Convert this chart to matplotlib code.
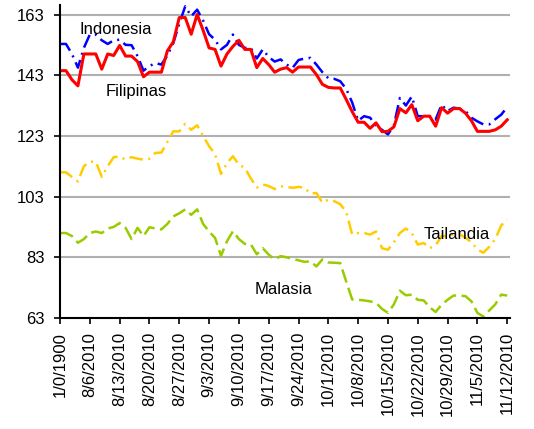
import numpy as np
from matplotlib import pyplot as plt

# weekly labels, one every 5 trading days
tick_labels = ["1/0/1900", "8/6/2010", "8/13/2010", "8/20/2010", "8/27/2010",
               "9/3/2010", "9/10/2010", "9/17/2010", "9/24/2010", "10/1/2010",
               "10/8/2010", "10/15/2010", "10/22/2010", "10/29/2010",
               "11/5/2010", "11/12/2010"]

indonesia = [153.3, 153.3, 150, 145.5, 152, 156.4, 156.4, 154.5, 153.3, 154.5,
             154.7, 153, 152.9, 149.3, 144.5, 146, 147, 146.5, 149.5, 153.6,
             160, 165.7, 162.4, 164.6, 161, 156.5, 154.7, 151.5, 153, 156.4,
             153, 152, 152, 148.5, 151.5, 149, 147.5, 148.2, 146.5, 145.4,
             148, 148.5, 148.7, 146.5, 144, 142, 141.8, 141, 138.5, 134,
             128, 129.5, 129, 126.5, 125, 123.5, 126.5, 135.5, 133, 136,
             129.5, 129.5, 129.5, 128.4, 133.3, 131.2, 132.3, 132, 131.2, 129,
             127.8, 126.8, 126.8, 128.5, 130, 132.5]

filipinas = [144.5, 144.5, 141.5, 139.5, 150, 150, 150, 145, 150, 149.5,
             152.8, 149.3, 149.3, 147.5, 142.5, 144, 144, 144, 151, 154,
             162, 162, 156.5, 163, 157.8, 152, 151.5, 146, 150, 152.5,
             154.5, 151.5, 151.5, 145.5, 148.5, 146.5, 144, 145, 145.5, 144,
             145.7, 145.7, 145.7, 143.2, 140, 139, 138.8, 138.8, 135, 131,
             127.5, 127.5, 125.5, 127.3, 124.4, 124.5, 126, 132, 130.6, 133.3,
             128, 129.5, 129.5, 126.2, 132.3, 130.5, 132, 132, 130.5, 128,
             124.5, 124.5, 124.5, 125, 126.2, 128.3]

tailandia = [111, 111, 109.5, 108, 113, 114.5, 114.5, 109.5, 113, 116,
             116.2, 115.2, 116, 115.5, 115.2, 115.5, 117.4, 117.5, 121, 124.5,
             124.5, 127, 125, 126.5, 123, 119.6, 117, 110.5, 114, 116.3,
             113.5, 112.5, 109, 106, 107, 106.5, 105.5, 106.4, 106.2, 105.9,
             106.2, 105.9, 104, 104.2, 101, 102, 101.5, 100.5, 98, 90.5,
             91, 91, 90.5, 91.5, 86, 85.5, 88, 91, 92.5, 91,
             87.2, 87.7, 86, 87, 90, 90, 90.5, 90.6, 89.4, 88,
             85.6, 84.5, 86.5, 89, 93.5, 95.5]

malasia = [91, 91, 90, 87.8, 89, 91, 91.5, 91, 92.5, 93,
           94.3, 92.7, 89, 92.7, 90, 92.9, 92.5, 92.2, 94, 96.5,
           97.5, 98.8, 97, 98.8, 94, 91.5, 89.4, 83.5, 88.3, 91.6,
           89, 87.4, 87.3, 84, 86, 83.9, 82.3, 83.4, 83, 82.5,
           82, 81.5, 81.7, 80, 82.3, 81.3, 81.2, 81.1, 75, 69.1,
           69, 68.8, 68.5, 68, 66, 64.7, 67.5, 72, 70.5, 70.7,
           69, 68.8, 66.5, 65, 67.4, 69, 70.4, 70.4, 70.2, 68.5,
           64.7, 63.5, 65.5, 67.5, 70.7, 70.4]

plt.rcParams["font.family"] = ["Liberation Sans", "DejaVu Sans"]
plt.rcParams["font.size"] = 12

fig = plt.figure(figsize=(5.34, 4.29), dpi=100)
ax = fig.add_axes([0.1124, 0.2587, 0.843, 0.7287])

x = np.arange(len(filipinas))
dashdot = (0, (5.5, 2.2, 0.8, 2.2))
dashed = (0, (5.5, 2.2))

ax.plot(x, indonesia, color="#0000FF", lw=1.8, ls=dashdot)
ax.plot(x, filipinas, color="#FF0000", lw=2.2)
ax.plot(x, tailandia, color="#FFCC00", lw=1.8, ls=dashdot)
ax.plot(x, malasia, color="#99CC00", lw=1.8, ls=dashed)

ax.text(3.2, 158.0, "Indonesia", ha="left", va="center")
ax.text(7.6, 137.7, "Filipinas", ha="left", va="center")
ax.text(60.9, 90.6, "Tailandia", ha="left", va="center")
ax.text(32.7, 72.5, "Malasia", ha="left", va="center")

yticks = [63, 83, 103, 123, 143, 163]
ax.set_ylim(63, 166)
ax.set_yticks(yticks)
ax.set_xlim(0, 75.5)
ax.set_xticks(np.arange(0, len(filipinas), 5))
ax.set_xticklabels(tick_labels, rotation=90)

for yv in yticks[1:]:
    ax.axhline(yv, color="#B0B0B0", lw=1.5, zorder=0)

for side in ["top", "right"]:
    ax.spines[side].set_visible(False)
for side in ["left", "bottom"]:
    ax.spines[side].set_linewidth(1.5)
    ax.spines[side].set_color("black")

ax.tick_params(axis="y", length=4, width=1.2, pad=7, labelsize=12)
ax.tick_params(axis="x", length=4, width=1.2, pad=6, labelsize=12)

fig.savefig("out.png", dpi=100)
